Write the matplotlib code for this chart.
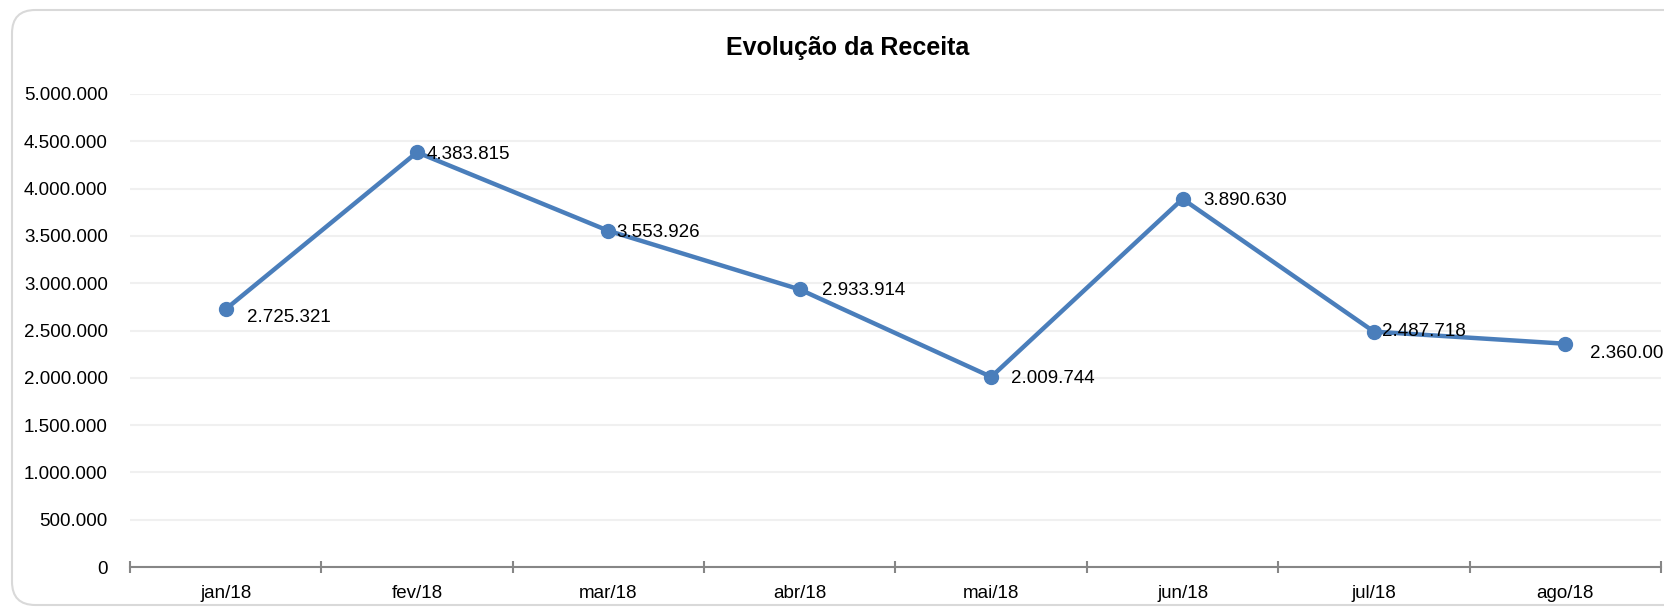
import matplotlib
matplotlib.use('Agg')
import matplotlib.pyplot as plt
from matplotlib.patches import FancyBboxPatch
from matplotlib.ticker import FuncFormatter, FixedLocator

# dados
meses = ['jan/18', 'fev/18', 'mar/18', 'abr/18', 'mai/18', 'jun/18', 'jul/18', 'ago/18']
receita = [2725321, 4383815, 3553926, 2933914, 2009744, 3890630, 2487718, 2360009]
eixo_y = [0, 500000, 1000000, 1500000, 2000000, 2500000, 3000000, 3500000, 4000000, 4500000, 5000000]

# deslocamento dos rótulos (pt)
desloc_x = [15, 7, 6, 16, 14.5, 15, 5.5, 18]
desloc_y = [-6, -1.5, -1.5, -1, -1, -1, 0, -7]


def fmt(v, pos=None):
    return f"{int(v):,}".replace(',', '.')


plt.rcParams['font.family'] = ['Liberation Sans', 'DejaVu Sans']

fig = plt.figure(figsize=(16.65, 6.12), dpi=100)
ax = fig.add_axes([130 / 1665, 1 - 567 / 612, (1661 - 130) / 1665, (567 - 94) / 612])

# moldura arredondada (cortada à direita, como no original)
borda = FancyBboxPatch((12 / 1665, 1 - 605 / 612), 1.6, (605 - 10) / 612,
                       boxstyle='round,pad=0,rounding_size=0.014', transform=fig.transFigure,
                       facecolor='none', edgecolor='#D9D9D9', linewidth=1.5,
                       mutation_aspect=1665 / 612)
fig.patches.append(borda)

x = list(range(len(meses)))
ax.plot(x, receita, color='#4A7EBB', linewidth=3.2, marker='o', markersize=10, zorder=3)

for i, v in enumerate(receita):
    ax.annotate(fmt(v), (i, v), xytext=(desloc_x[i], desloc_y[i]), textcoords='offset points',
                ha='left', va='center', fontsize=13.5, color='black', annotation_clip=False)

ax.set_xlim(-0.5, len(meses) - 0.5)
ax.set_ylim(0, 5000000)
ax.set_yticks(eixo_y)
ax.yaxis.set_major_formatter(FuncFormatter(fmt))
ax.set_xticks(x)
ax.set_xticklabels(meses)
ax.xaxis.set_minor_locator(FixedLocator([i - 0.5 for i in range(len(meses) + 1)]))

ax.tick_params(axis='y', length=0, pad=16, labelsize=13.5)
ax.tick_params(axis='x', which='major', length=0, pad=13, labelsize=13.5)
ax.tick_params(axis='x', which='minor', length=9, direction='inout', width=1.5, color='#868686')

for s in ['top', 'right', 'left']:
    ax.spines[s].set_visible(False)
ax.spines['bottom'].set_color('#868686')
ax.spines['bottom'].set_linewidth(1.5)

ax.grid(axis='y', color='#F0F0F0', linewidth=1.5)
ax.set_axisbelow(True)

fig.text(848 / 1665, 1 - 48 / 612, 'Evolução da Receita', ha='center', va='center',
         fontsize=18, fontweight='bold')

fig.savefig('out.png', dpi=100)
